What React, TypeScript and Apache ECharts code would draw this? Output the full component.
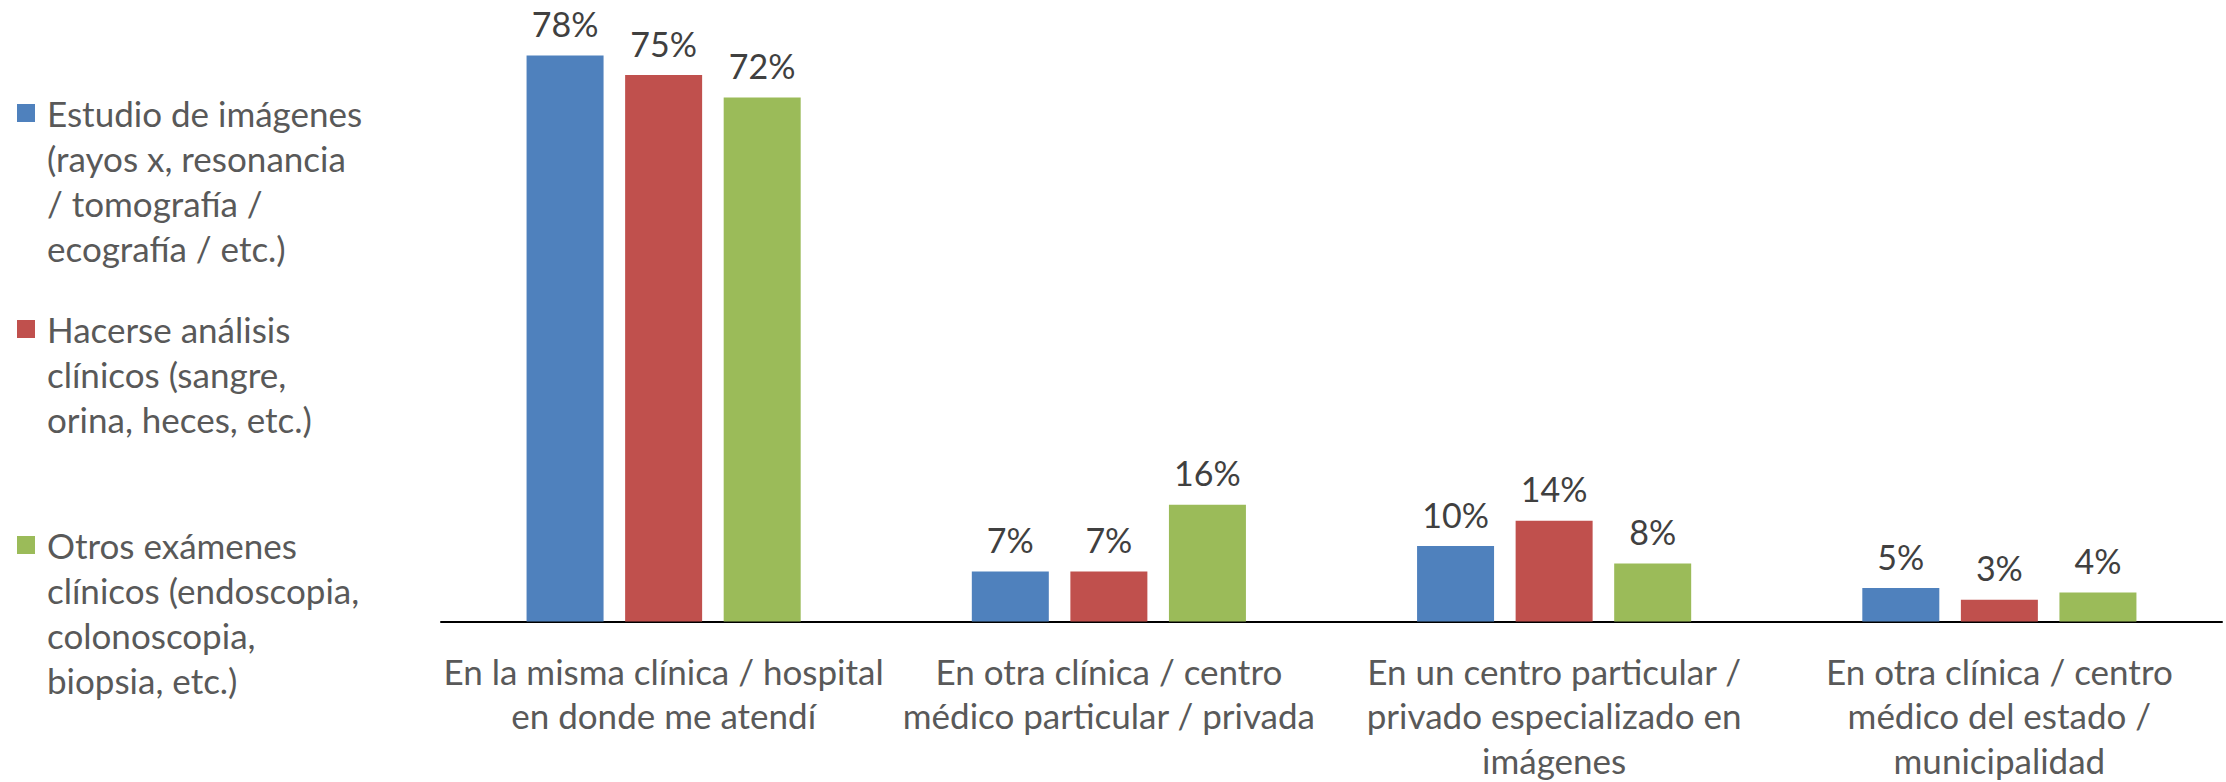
import React, { useEffect, useRef } from "react";
import * as echarts from "echarts";

const categories = [
  "En la misma clínica / hospital\nen donde me atendí",
  "En otra clínica / centro\nmédico particular / privada",
  "En un centro particular /\nprivado especializado en\nimágenes",
  "En otra clínica / centro\nmédico del estado /\nmunicipalidad",
];

const seriesNames = [
  "Estudio de imágenes (rayos x, resonancia / tomografía / ecografía / etc.)",
  "Hacerse análisis clínicos (sangre, orina, heces, etc.)",
  "Otros exámenes clínicos (endoscopia, colonoscopia, biopsia, etc.)",
];

const legendLabels = [
  "Estudio de imágenes\n(rayos x, resonancia\n/ tomografía /\necografía / etc.)",
  "Hacerse análisis\nclínicos (sangre,\norina, heces, etc.)\n ",
  "Otros exámenes\nclínicos (endoscopia,\ncolonoscopia,\nbiopsia, etc.)",
];

// percentages (labels rounded)
const imagenes = [78.0, 6.9, 10.4, 4.6];
const analisis = [75.3, 6.9, 13.9, 3.0];
const otros = [72.2, 16.1, 8.0, 4.0];

const colors = ["#4F81BD", "#C0504D", "#9BBB59"];
const FONT = "Lato, 'Open Sans', sans-serif";

export default function App() {
  const ref = useRef<HTMLDivElement>(null);
  useEffect(() => {
    document.body.style.margin = "0";
    const chart = echarts.init(ref.current!, undefined, { renderer: "svg" });
    const values = [imagenes, analisis, otros];
    const option: any = {
      animation: false,
      backgroundColor: "#ffffff",
      legend: {
        orient: "vertical",
        left: 17,
        top: 90,
        padding: 0,
        itemGap: 36,
        itemWidth: 25,
        itemHeight: 180,
        icon: "path://M0,0h25M0,14h18v18h-18zM0,180h25",
        data: seriesNames,
        formatter: (name: string) => legendLabels[seriesNames.indexOf(name)],
        selectedMode: false,
        textStyle: {
          fontFamily: FONT,
          fontSize: 35,
          lineHeight: 45,
          color: "#595959",
        },
      },
      grid: { left: 441, right: 4, top: 41, bottom: 158, containLabel: false },
      xAxis: {
        type: "category",
        data: categories,
        axisTick: { show: false },
        axisLine: { lineStyle: { color: "#000000", width: 2 } },
        axisLabel: {
          interval: 0,
          margin: 27,
          fontFamily: FONT,
          fontSize: 35,
          lineHeight: 44.5,
          color: "#595959",
        },
      },
      yAxis: { type: "value", min: 0, max: 80, show: false },
      series: values.map((v, i) => ({
        type: "bar",
        name: seriesNames[i],
        data: v,
        barWidth: 77,
        barGap: "28%",
        itemStyle: { color: colors[i] },
        label: {
          show: true,
          position: "top",
          distance: 15,
          formatter: (p: any) => Math.round(p.value) + "%",
          fontFamily: FONT,
          fontSize: 34,
          color: "#404040",
        },
      })),
    };
    chart.setOption(option);
    return () => chart.dispose();
  }, []);
  return (
    <div
      ref={ref}
      style={{ position: "absolute", left: 0, top: 0, width: 2226, height: 782 }}
    />
  );
}
